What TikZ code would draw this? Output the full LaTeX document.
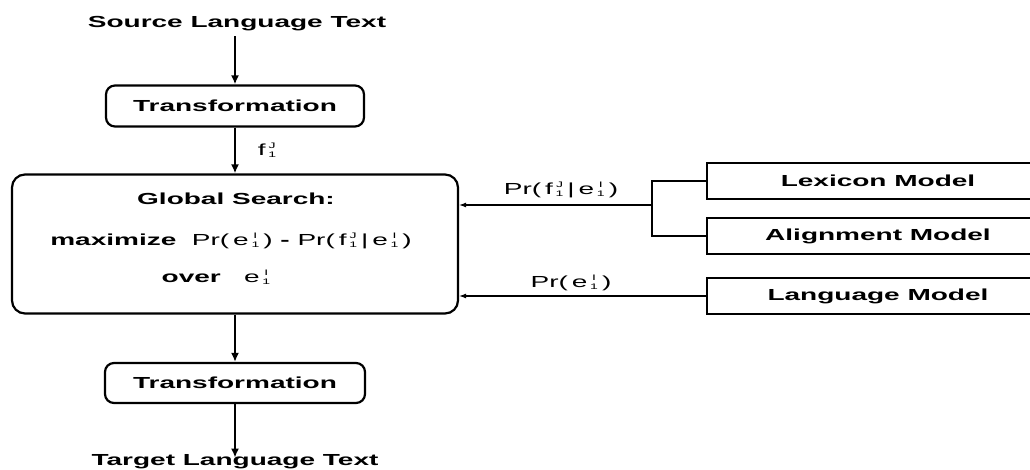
\documentclass[tikz,border=0pt]{standalone}
\usepackage{fontspec}
\setmainfont{Liberation Sans}[FakeStretch=1.75]
\usetikzlibrary{arrows.meta}

% stacked super/subscript: #1 above, #2 below
\newcommand\ix[2]{{\fontsize{8}{8}\selectfont\setbox0=\hbox{#2}%
\rlap{\hbox to \wd0{\hss\raisebox{7.2pt}{#1}\hss}}\raisebox{-1.8pt}{\box0}}}
\newcommand\gap{\hspace{4pt}}

\tikzset{
  lbl/.style={font=\fontsize{16}{19}\selectfont\bfseries, inner sep=0pt},
  mathlbl/.style={font=\fontsize{16}{19}\selectfont, inner sep=0pt},
  rbox/.style={draw, line width=2.2pt, rounded corners=9pt, inner sep=0pt,
    font=\fontsize{16}{19}\selectfont\bfseries},
  mbox/.style={draw, line width=2pt, inner sep=0pt, anchor=west,
    font=\fontsize{16}{19}\selectfont\bfseries},
  flow/.style={line width=2.6pt, -{Latex[length=9pt,width=8pt]}},
  feed/.style={line width=1.1pt, -{Latex[length=7pt,width=5pt]}},
  link/.style={line width=1.6pt}
}

\begin{document}
\begin{tikzpicture}[x=1pt,y=-1pt]
\useasboundingbox (0,0) rectangle (1030,470);

% main processing chain
\node[lbl] (src) at (237,24) {Source Language Text};
\node[rbox, minimum width=258pt, minimum height=41pt] (t1) at (235,106) {Transformation};
\node[rbox, rounded corners=13pt, minimum width=446pt, minimum height=139pt] (gs) at (235,244) {};
\node[rbox, minimum width=260pt, minimum height=40pt] (t2) at (235,383) {Transformation};
\node[lbl] (tgt) at (235,462) {Target Language Text};

% text of the search box
\node[lbl] (gsa) at (236,199) {Global Search:};
\node[mathlbl] (gsb) at (231,241) {\textbf{maximize}\ \ Pr(\gap e\,\ix{I}{1}\gap)\ \textbf{-}\ Pr(\gap f\,\ix{J}{1}\gap|\gap e\,\ix{I}{1}\gap)};
\node[mathlbl] (gsc) at (216,277) {\textbf{over}\ \ \ e\,\ix{I}{1}};

\draw[flow] (t1.north |- src.south) ++(0,5) coordinate (s0) -- (t1.north);
\draw[flow] (t1.south) -- (gs.north);
\draw[flow] (gs.south) -- (t2.north);
\draw[flow] (t2.south) -- ([yshift=-3pt]t2.south |- tgt.north);
\node[mathlbl] (fj) at (267,150) {f\,\ix{J}{1}};

% knowledge sources
\node[mbox, minimum width=330pt, minimum height=36pt] (lex) at (706,181) {\hspace*{12pt}Lexicon Model};
\node[mbox, minimum width=330pt, minimum height=36pt] (ali) at (706,236) {\hspace*{12pt}Alignment Model};
\node[mbox, minimum width=330pt, minimum height=36pt] (lang) at (706,296) {\hspace*{12pt}Language Model};

% bracket joining lexicon and alignment model
\coordinate (br) at (652,205);
\draw[link] (lex.west) -| (br) |- (ali.west);
\draw[feed] (br) -- (gs.east |- br);
\draw[feed] (lang.west) -- (gs.east |- lang.west);

\node[mathlbl] (p1) at (561,190) {Pr(\gap f\,\ix{J}{1}\gap|\gap e\,\ix{I}{1}\gap)};
\node[mathlbl] (p2) at (571,283) {Pr(\gap e\,\ix{I}{1}\gap)};
\end{tikzpicture}
\end{document}
